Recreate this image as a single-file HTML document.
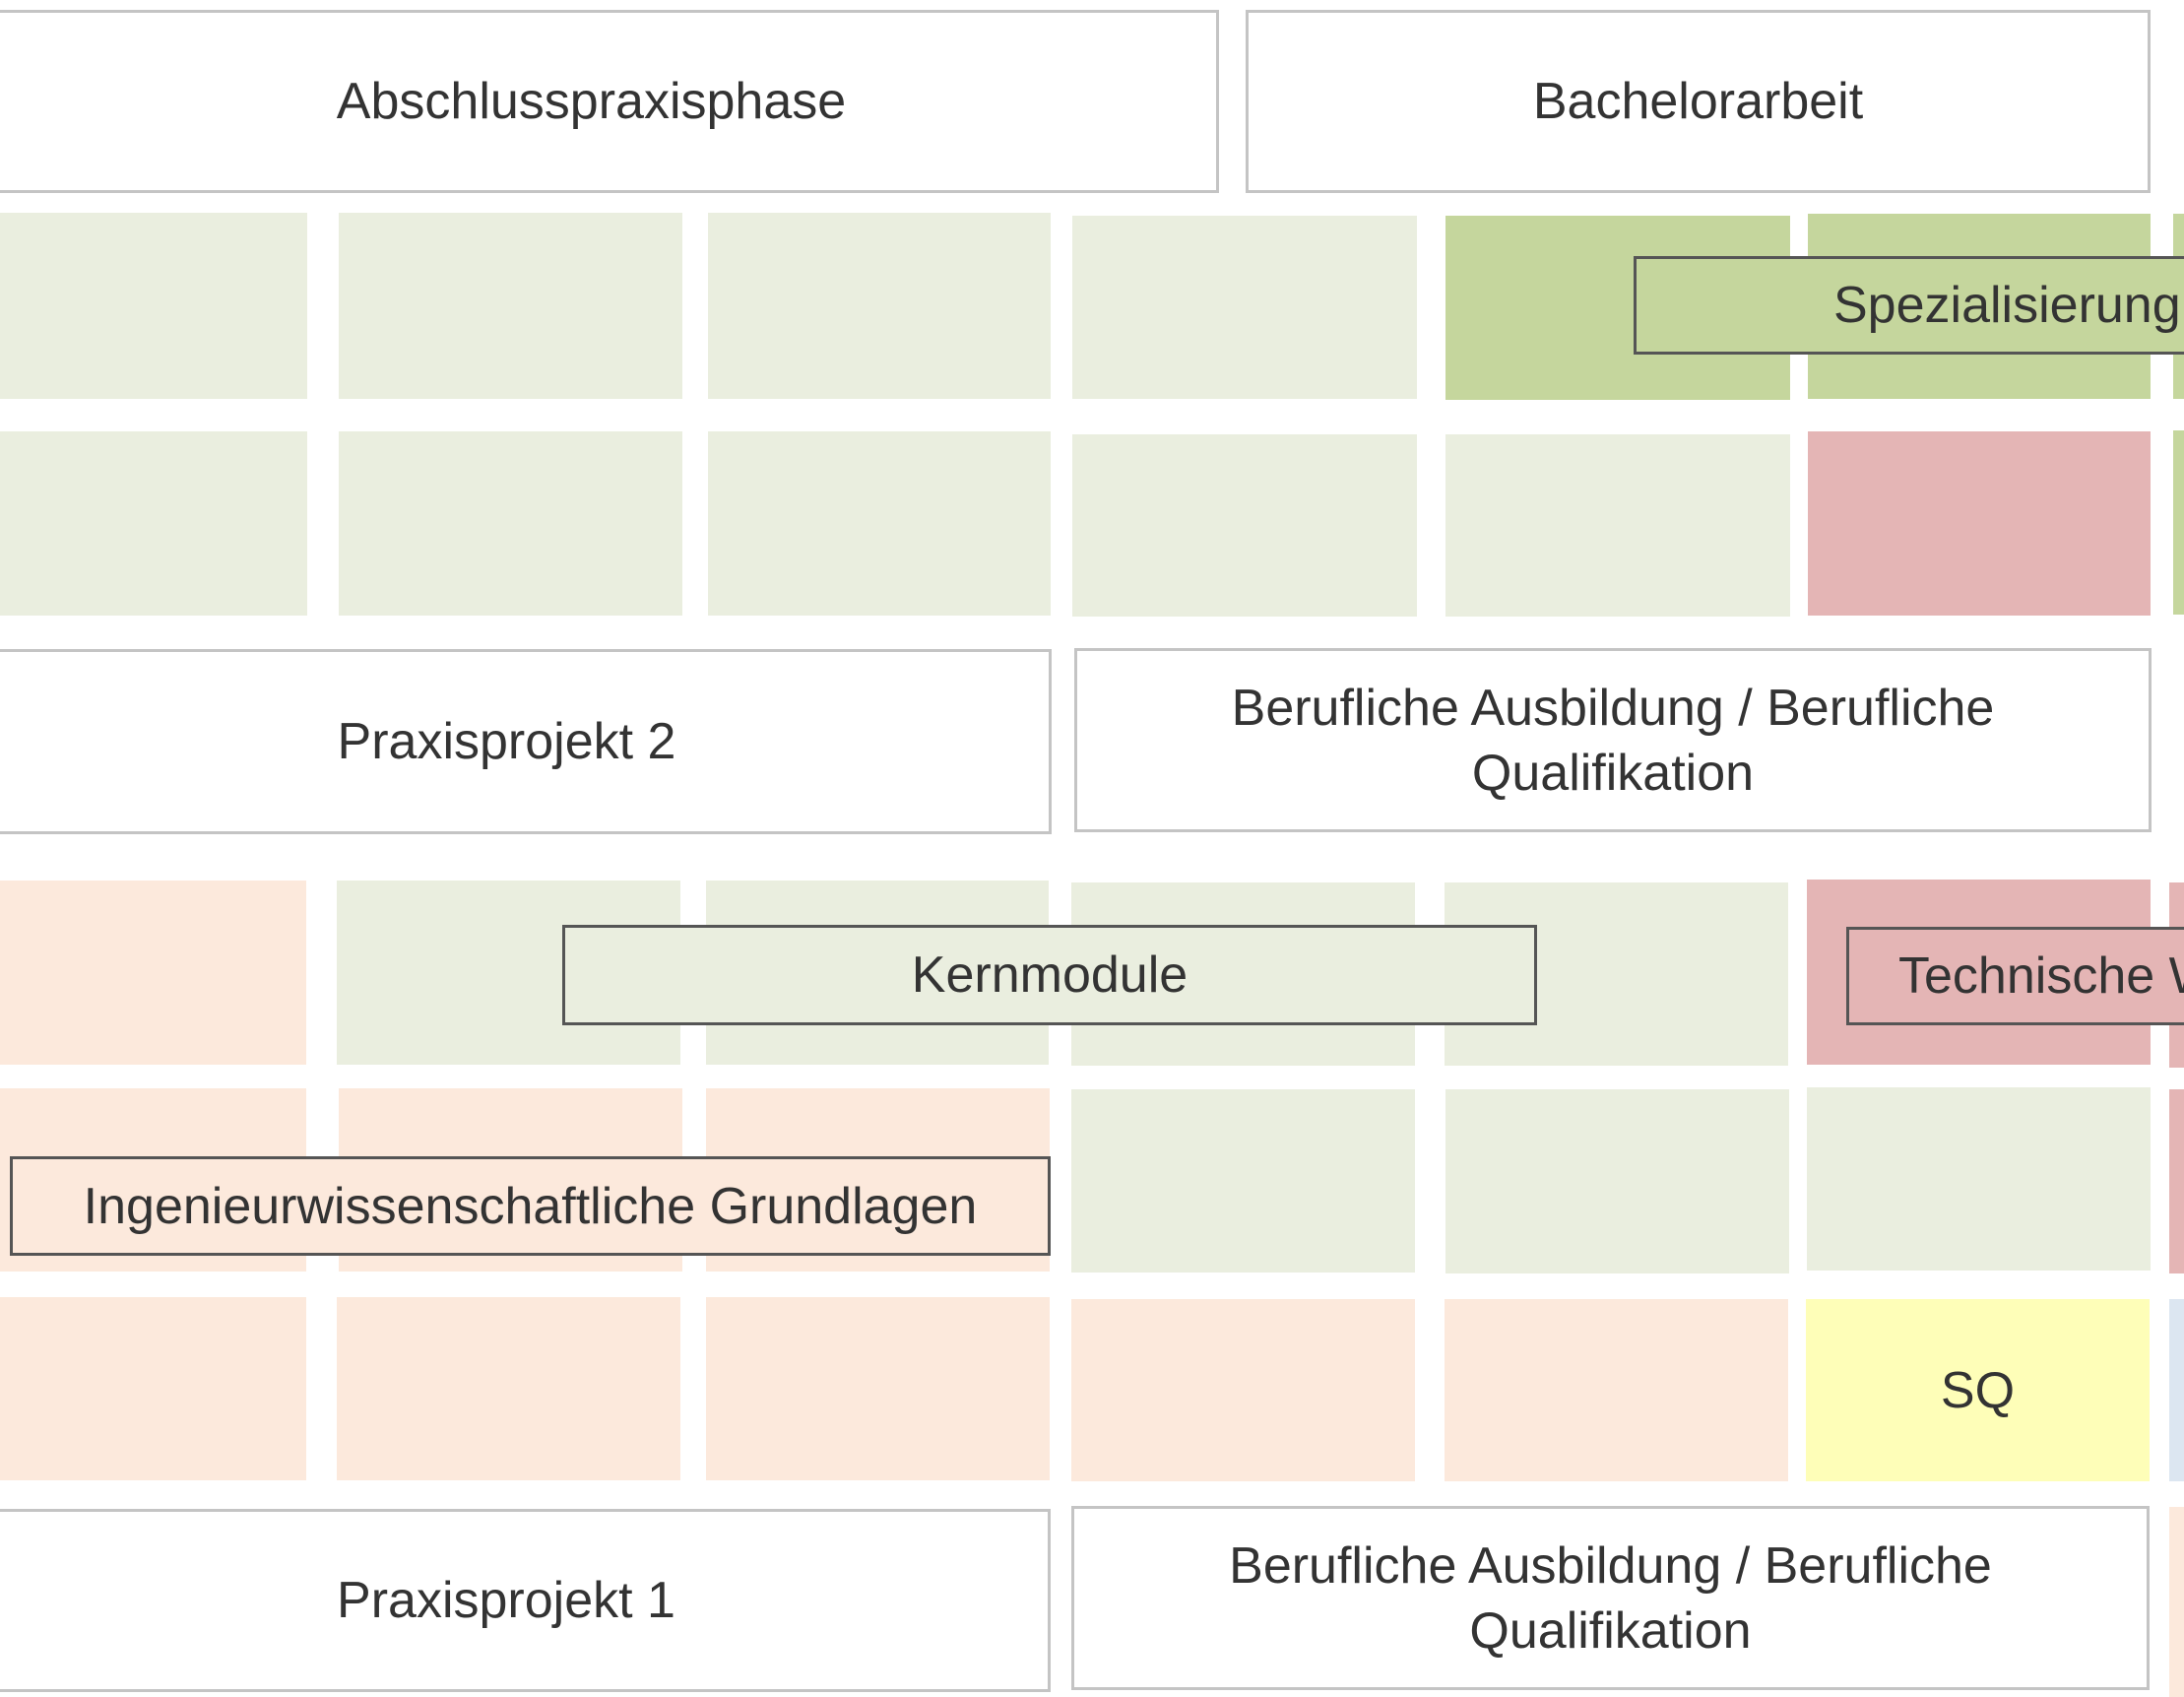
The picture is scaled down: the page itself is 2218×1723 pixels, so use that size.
<!DOCTYPE html>
<html><head><meta charset="utf-8"><style>
html,body{margin:0;width:2218px;height:1723px;overflow:hidden}
body{background:#fff;position:relative;font-family:"Liberation Sans",sans-serif;color:#333}
div{position:absolute;box-sizing:border-box}
.lg{background:#EAEEDF}.g{background:#C5D69D}.r{background:#E4B5B5}.p{background:#FCE9DC}.y{background:#FEFEB8}.b{background:#DCE6F1}
.box{border:3px solid #c4c4c4;background:#fff;display:flex;align-items:center;justify-content:center;text-align:center;font-size:52px;line-height:66px}
.lab{border:3px solid #555;display:flex;align-items:center;justify-content:center;font-size:52px;white-space:nowrap;overflow:hidden}
</style></head><body>
<div class="box" style="left:-3px;top:10px;width:1241px;height:186px;padding-right:34px">Abschlusspraxisphase</div>
<div class="box" style="left:1265px;top:10px;width:919px;height:186px">Bachelorarbeit</div>
<div class="lg" style="left:0;top:216px;width:312px;height:189px"></div>
<div class="lg" style="left:344px;top:216px;width:349px;height:189px"></div>
<div class="lg" style="left:719px;top:216px;width:348px;height:189px"></div>
<div class="lg" style="left:1089px;top:219px;width:350px;height:186px"></div>
<div class="g" style="left:1468px;top:219px;width:350px;height:187px"></div>
<div class="g" style="left:1836px;top:217px;width:348px;height:188px"></div>
<div class="g" style="left:2207px;top:217px;width:11px;height:188px"></div>
<div class="lg" style="left:0;top:438px;width:312px;height:187px"></div>
<div class="lg" style="left:344px;top:438px;width:349px;height:187px"></div>
<div class="lg" style="left:719px;top:438px;width:348px;height:187px"></div>
<div class="lg" style="left:1089px;top:441px;width:350px;height:185px"></div>
<div class="lg" style="left:1468px;top:441px;width:350px;height:185px"></div>
<div class="r" style="left:1836px;top:438px;width:348px;height:187px"></div>
<div class="g" style="left:2207px;top:437px;width:11px;height:187px"></div>
<div class="box" style="left:-3px;top:659px;width:1071px;height:188px;padding-right:36px">Praxisprojekt 2</div>
<div class="box" style="left:1091px;top:658px;width:1094px;height:187px">Berufliche Ausbildung / Berufliche<br>Qualifikation</div>
<div class="p" style="left:0;top:894px;width:311px;height:187px"></div>
<div class="lg" style="left:342px;top:894px;width:349px;height:187px"></div>
<div class="lg" style="left:717px;top:894px;width:348px;height:187px"></div>
<div class="lg" style="left:1088px;top:896px;width:349px;height:186px"></div>
<div class="lg" style="left:1467px;top:896px;width:349px;height:186px"></div>
<div class="r" style="left:1835px;top:893px;width:349px;height:188px"></div>
<div class="r" style="left:2203px;top:896px;width:15px;height:188px"></div>
<div class="p" style="left:0;top:1105px;width:311px;height:186px"></div>
<div class="p" style="left:344px;top:1105px;width:349px;height:186px"></div>
<div class="p" style="left:717px;top:1105px;width:349px;height:186px"></div>
<div class="lg" style="left:1088px;top:1106px;width:349px;height:186px"></div>
<div class="lg" style="left:1468px;top:1106px;width:349px;height:187px"></div>
<div class="lg" style="left:1835px;top:1104px;width:349px;height:186px"></div>
<div class="r" style="left:2203px;top:1106px;width:15px;height:187px"></div>
<div class="p" style="left:0;top:1317px;width:311px;height:186px"></div>
<div class="p" style="left:342px;top:1317px;width:349px;height:186px"></div>
<div class="p" style="left:717px;top:1317px;width:349px;height:186px"></div>
<div class="p" style="left:1088px;top:1319px;width:349px;height:185px"></div>
<div class="p" style="left:1467px;top:1319px;width:349px;height:185px"></div>
<div class="y" style="left:1834px;top:1319px;width:349px;height:185px;display:flex;align-items:center;justify-content:center;font-size:52px">SQ</div>
<div class="b" style="left:2203px;top:1319px;width:15px;height:185px"></div>
<div class="box" style="left:-3px;top:1532px;width:1070px;height:186px;padding-right:36px">Praxisprojekt 1</div>
<div class="box" style="left:1088px;top:1529px;width:1095px;height:187px">Berufliche Ausbildung / Berufliche<br>Qualifikation</div>
<div class="p" style="left:2203px;top:1530px;width:15px;height:193px"></div>
<div class="lab g" style="left:1659px;top:260px;width:559px;height:100px;justify-content:flex-start;padding-left:200px;border-right:none">Spezialisierung</div>
<div class="lab lg" style="left:571px;top:939px;width:990px;height:102px">Kernmodule</div>
<div class="lab r" style="left:1875px;top:941px;width:343px;height:100px;justify-content:flex-start;padding-left:50px;border-right:none">Technische Wahlpflicht</div>
<div class="lab p" style="left:10px;top:1174px;width:1057px;height:101px">Ingenieurwissenschaftliche Grundlagen</div>
</body></html>
